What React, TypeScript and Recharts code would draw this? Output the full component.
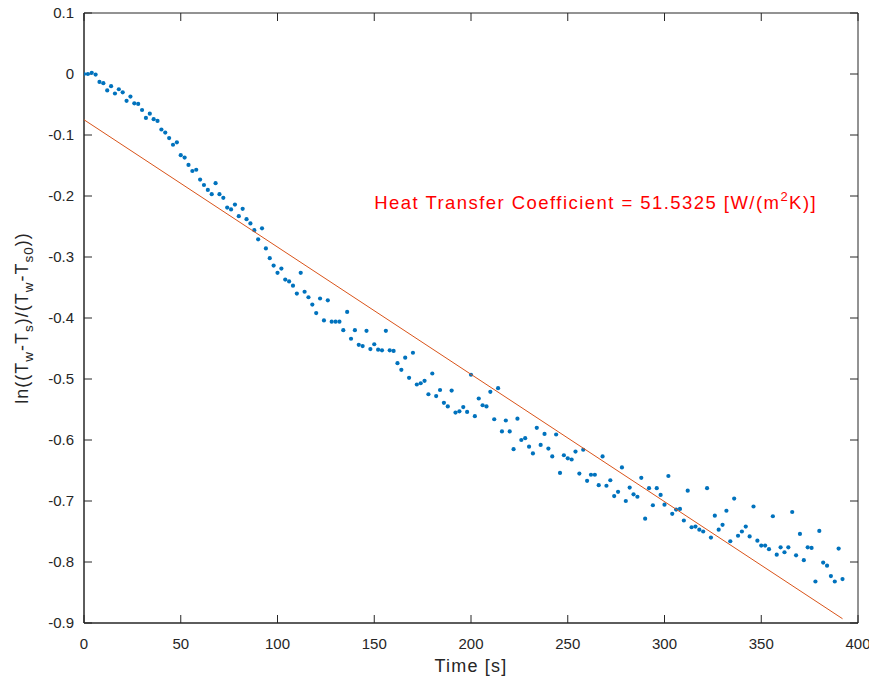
import { ScatterChart, Scatter, XAxis, YAxis, ReferenceDot } from "recharts";

// sample times [s]
const times = [
  0, 2, 4, 6, 8, 10, 12, 14, 16, 18, 20, 22, 24, 26, 28, 30, 32, 34, 36, 38,
  40, 42, 44, 46, 48, 50, 52, 54, 56, 58, 60, 62, 64, 66, 68, 70, 72, 74, 76, 78,
  80, 82, 84, 86, 88, 90, 92, 94, 96, 98, 100, 102, 104, 106, 108, 110, 112, 114, 116, 118,
  120, 122, 124, 126, 128, 130, 132, 134, 136, 138, 140, 142, 144, 146, 148, 150, 152, 154, 156, 158,
  160, 162, 164, 166, 168, 170, 172, 174, 176, 178, 180, 182, 184, 186, 188, 190, 192, 194, 196, 198,
  200, 202, 204, 206, 208, 210, 212, 214, 216, 218, 220, 222, 224, 226, 228, 230, 232, 234, 236, 238,
  240, 242, 244, 246, 248, 250, 252, 254, 256, 258, 260, 262, 264, 266, 268, 270, 272, 274, 276, 278,
  280, 282, 284, 286, 288, 290, 292, 294, 296, 298, 300, 302, 304, 306, 308, 310, 312, 314, 316, 318,
  320, 322, 324, 326, 328, 330, 332, 334, 336, 338, 340, 342, 344, 346, 348, 350, 352, 354, 356, 358,
  360, 362, 364, 366, 368, 370, 372, 374, 376, 378, 380, 382, 384, 386, 388, 390, 392,
];

// ln((Tw-Ts)/(Tw-Ts0)) measured
const lnRatio = [
  0, 0, 0.002, -0.001, -0.013, -0.015, -0.027, -0.02, -0.032, -0.025,
  -0.03, -0.044, -0.037, -0.048, -0.049, -0.059, -0.072, -0.065, -0.074, -0.077,
  -0.091, -0.096, -0.105, -0.116, -0.112, -0.133, -0.137, -0.149, -0.159, -0.157,
  -0.173, -0.182, -0.19, -0.197, -0.179, -0.197, -0.203, -0.219, -0.222, -0.214,
  -0.233, -0.221, -0.238, -0.245, -0.256, -0.271, -0.253, -0.286, -0.302, -0.314,
  -0.326, -0.319, -0.337, -0.34, -0.347, -0.36, -0.326, -0.357, -0.366, -0.378,
  -0.392, -0.368, -0.404, -0.371, -0.406, -0.406, -0.406, -0.42, -0.39, -0.434,
  -0.42, -0.444, -0.446, -0.421, -0.451, -0.443, -0.452, -0.453, -0.421, -0.453,
  -0.454, -0.474, -0.485, -0.465, -0.498, -0.457, -0.509, -0.507, -0.503, -0.525,
  -0.491, -0.528, -0.518, -0.539, -0.545, -0.519, -0.555, -0.553, -0.546, -0.554,
  -0.493, -0.561, -0.532, -0.543, -0.545, -0.521, -0.566, -0.515, -0.586, -0.568,
  -0.586, -0.615, -0.565, -0.6, -0.597, -0.611, -0.622, -0.58, -0.608, -0.59,
  -0.614, -0.627, -0.591, -0.654, -0.625, -0.63, -0.632, -0.619, -0.655, -0.616,
  -0.667, -0.657, -0.657, -0.674, -0.627, -0.675, -0.666, -0.692, -0.685, -0.645,
  -0.7, -0.678, -0.689, -0.693, -0.662, -0.729, -0.679, -0.707, -0.679, -0.69,
  -0.706, -0.659, -0.721, -0.714, -0.713, -0.732, -0.683, -0.743, -0.742, -0.747,
  -0.75, -0.679, -0.76, -0.724, -0.747, -0.739, -0.716, -0.766, -0.696, -0.757,
  -0.75, -0.742, -0.758, -0.709, -0.765, -0.773, -0.773, -0.779, -0.725, -0.788,
  -0.776, -0.784, -0.776, -0.718, -0.789, -0.754, -0.797, -0.776, -0.777, -0.832,
  -0.749, -0.801, -0.806, -0.823, -0.832, -0.778, -0.828,
];

// linear fit end points
const fitTimes = [0, 392];
const fitValues = [-0.075, -0.893];

const xTicks = [0, 50, 100, 150, 200, 250, 300, 350, 400];
const yTicks = [-0.9, -0.8, -0.7, -0.6, -0.5, -0.4, -0.3, -0.2, -0.1, 0, 0.1];

const annotX = 150;
const annotY = -0.21;

const FONT = "'Liberation Sans', Arial, Helvetica, sans-serif";
const AXIS = "#262626";

const points = times.map((t, i) => ({ t, v: lnRatio[i] }));
const fit = fitTimes.map((t, i) => ({ t, v: fitValues[i] }));

const fmtY = (v: number) => (v === 0 ? "0" : v.toFixed(1));

const Dot = (p: any) => <circle cx={p.cx} cy={p.cy} r={2.1} fill="#0072BD" />;
const NoTick = () => <g />;

const YLabel = ({ viewBox }: any) => {
  const x = viewBox.x + 14;
  const y = viewBox.y + viewBox.height / 2;
  return (
    <text x={x} y={y} transform={`rotate(-90 ${x} ${y})`} textAnchor="middle" dy="0.35em"
      fontSize={18} letterSpacing={1} fontFamily={FONT} fill={AXIS}>
      ln((T<tspan fontSize={13.5} dy={5}>w</tspan>
      <tspan dy={-5}>-T</tspan><tspan fontSize={13.5} dy={5}>s</tspan>
      <tspan dy={-5}>)/(T</tspan><tspan fontSize={13.5} dy={5}>w</tspan>
      <tspan dy={-5}>-T</tspan><tspan fontSize={13.5} dy={5}>s0</tspan>
      <tspan dy={-5}>))</tspan>
    </text>
  );
};

const XLabel = ({ viewBox }: any) => (
  <text x={viewBox.x + viewBox.width / 2} y={672} textAnchor="middle"
    fontSize={18} letterSpacing={1.2} fontFamily={FONT} fill={AXIS}>
    Time [s]
  </text>
);

const Annotation = ({ viewBox }: any) => (
  <text x={viewBox.x + viewBox.width / 2} y={viewBox.y + viewBox.height / 2} dy="0.35em"
    fontSize={18.5} letterSpacing={1.45} fontFamily={FONT} fill="#FF0000">
    Heat Transfer Coefficient = 51.5325 [W/(m<tspan fontSize={13} dy={-8}>2</tspan>
    <tspan dy={8}>K)]</tspan>
  </text>
);

export default function App() {
  const tick = { fontSize: 15, fill: AXIS, fontFamily: FONT };
  const inward = { stroke: AXIS, strokeWidth: 1 };
  return (
    <div style={{ margin: "-8px 0 0 -8px", width: 877, height: 687 }}>
      <ScatterChart width={877} height={687} margin={{ top: 13, right: 19, bottom: 24, left: 8 }}
        style={{ background: "#fff" }}>
        {/* labelled axes */}
        <XAxis xAxisId={0} dataKey="t" type="number" domain={[0, 400]} ticks={xTicks} interval={0}
          allowDataOverflow height={40} tickLine={false} tickSize={0} tickMargin={15}
          tick={tick} stroke={AXIS} label={<XLabel />} />
        <YAxis yAxisId={0} dataKey="v" type="number" domain={[-0.9, 0.1]} ticks={yTicks} interval={0}
          allowDataOverflow width={76} tickLine={false} tickSize={0} tickMargin={10} tick={tick}
          tickFormatter={fmtY} stroke={AXIS} label={<YLabel />} />
        {/* box with inward tick marks */}
        <XAxis xAxisId="b" orientation="bottom" mirror dataKey="t" type="number" domain={[0, 400]}
          ticks={xTicks} interval={0} allowDataOverflow height={8} tickSize={8} tickLine={inward}
          tick={<NoTick />} stroke={AXIS} />
        <XAxis xAxisId="t" orientation="top" mirror dataKey="t" type="number" domain={[0, 400]}
          ticks={xTicks} interval={0} allowDataOverflow height={8} tickSize={8} tickLine={inward}
          tick={<NoTick />} stroke={AXIS} />
        <YAxis yAxisId="l" orientation="left" mirror dataKey="v" type="number" domain={[-0.9, 0.1]}
          ticks={yTicks} interval={0} allowDataOverflow width={8} tickSize={8} tickLine={inward}
          tick={<NoTick />} stroke={AXIS} />
        <YAxis yAxisId="r" orientation="right" mirror dataKey="v" type="number" domain={[-0.9, 0.1]}
          ticks={yTicks} interval={0} allowDataOverflow width={8} tickSize={8} tickLine={inward}
          tick={<NoTick />} stroke={AXIS} />
        <Scatter data={points} shape={<Dot />} isAnimationActive={false} />
        <Scatter data={fit} line={{ stroke: "#D95319", strokeWidth: 1 }} shape={() => <g />}
          isAnimationActive={false} />
        <ReferenceDot x={annotX} y={annotY} r={1} fill="none" stroke="none"
          label={<Annotation />} />
      </ScatterChart>
    </div>
  );
}
